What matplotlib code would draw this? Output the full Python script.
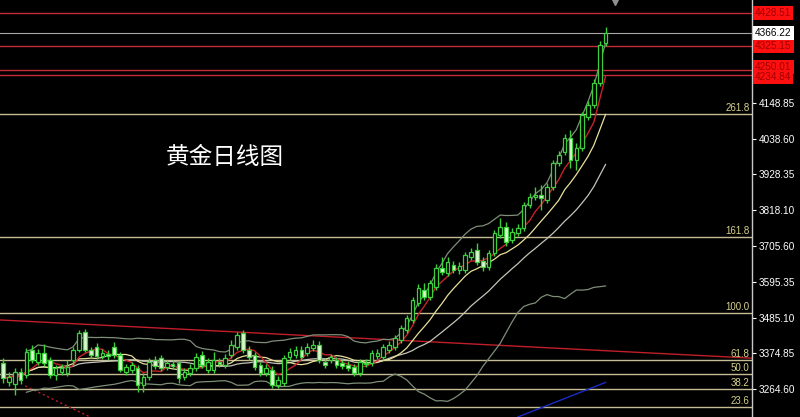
import matplotlib
matplotlib.use("Agg")
import matplotlib.pyplot as plt
import numpy as np
import pandas as pd

plt.rcParams["font.family"] = ["Liberation Sans", "DejaVu Sans"]

# daily gold candles
opens = [3345, 3286, 3280, 3317, 3308, 3385, 3348, 3376, 3354, 3308,
         3317, 3314, 3354, 3385, 3441, 3385, 3394, 3367, 3373, 3394,
         3370, 3317, 3323, 3330, 3277, 3302, 3354, 3360, 3333, 3342,
         3345, 3302, 3314, 3330, 3370, 3323, 3323, 3348, 3339, 3370,
         3394, 3438, 3385, 3370, 3339, 3314, 3323, 3277, 3283, 3364,
         3370, 3385, 3376, 3391, 3401, 3348, 3354, 3354, 3345, 3339,
         3333, 3314, 3342, 3345, 3367, 3364, 3385, 3394, 3416, 3447,
         3478, 3531, 3571, 3549, 3580, 3639, 3623, 3648, 3633, 3633,
         3673, 3694, 3660, 3642, 3685, 3741, 3766, 3725, 3747, 3762,
         3834, 3858, 3865, 3849, 3889, 3963, 3997, 4041, 3973, 4010,
         4106, 4143, 4211, 4334]
highs = [3360, 3317, 3330, 3330, 3391, 3401, 3388, 3404, 3364, 3339,
         3342, 3354, 3394, 3447, 3450, 3394, 3407, 3388, 3385, 3410,
         3379, 3342, 3348, 3339, 3314, 3360, 3367, 3370, 3354, 3354,
         3354, 3330, 3342, 3376, 3382, 3360, 3379, 3360, 3373, 3416,
         3441, 3447, 3398, 3379, 3348, 3342, 3336, 3305, 3370, 3391,
         3398, 3398, 3407, 3416, 3413, 3360, 3373, 3364, 3354, 3351,
         3342, 3357, 3357, 3385, 3388, 3404, 3413, 3432, 3462, 3493,
         3549, 3589, 3592, 3602, 3651, 3673, 3673, 3660, 3657, 3688,
         3701, 3716, 3673, 3694, 3756, 3793, 3781, 3762, 3775, 3843,
         3871, 3889, 3895, 3902, 3973, 4000, 4053, 4065, 4025, 4121,
         4155, 4223, 4341, 4384]
lows = [3283, 3274, 3246, 3280, 3299, 3345, 3339, 3336, 3299, 3292,
        3308, 3305, 3339, 3379, 3379, 3360, 3357, 3357, 3354, 3360,
        3317, 3308, 3314, 3255, 3255, 3292, 3326, 3320, 3323, 3326,
        3283, 3292, 3305, 3320, 3330, 3314, 3314, 3333, 3330, 3360,
        3385, 3376, 3354, 3323, 3305, 3305, 3268, 3268, 3274, 3354,
        3360, 3354, 3367, 3382, 3345, 3330, 3345, 3330, 3326, 3320,
        3305, 3305, 3333, 3336, 3357, 3354, 3376, 3385, 3407, 3438,
        3469, 3521, 3540, 3540, 3571, 3617, 3614, 3623, 3620, 3623,
        3664, 3648, 3629, 3633, 3676, 3731, 3707, 3716, 3738, 3753,
        3824, 3849, 3818, 3840, 3880, 3954, 3988, 3948, 3942, 4000,
        4096, 4133, 4201, 4325]
closes = [3299, 3302, 3317, 3292, 3379, 3354, 3376, 3345, 3308, 3330,
          3330, 3333, 3385, 3438, 3385, 3370, 3367, 3376, 3367, 3370,
          3323, 3333, 3339, 3277, 3302, 3348, 3336, 3330, 3345, 3336,
          3299, 3317, 3330, 3364, 3339, 3348, 3354, 3342, 3360, 3401,
          3432, 3385, 3364, 3333, 3314, 3330, 3277, 3292, 3360, 3379,
          3385, 3364, 3394, 3401, 3354, 3339, 3364, 3339, 3336, 3330,
          3314, 3348, 3345, 3376, 3376, 3394, 3401, 3422, 3453, 3484,
          3540, 3577, 3549, 3592, 3639, 3626, 3657, 3633, 3645, 3679,
          3688, 3657, 3642, 3685, 3747, 3766, 3719, 3750, 3762, 3834,
          3858, 3865, 3855, 3889, 3963, 3988, 4041, 3973, 4010, 4112,
          4143, 4211, 4328, 4366.22]

# horizontal levels
red_levels = [4428.51, 4325.15, 4250.01, 4234.84]
red_label_at = [4428.51, 4325.15, 4260.0, 4229.0]
last_price = 4366.22
fib_labels = ["261.8", "161.8", "100.0", "61.8", "50.0", "38.2", "23.6"]
fib_prices = [4115.0, 3735.0, 3500.0, 3355.0, 3310.0, 3265.0, 3209.7]
axis_ticks = [4148.85, 4038.60, 3928.35, 3818.10, 3705.60,
              3595.35, 3485.10, 3374.85, 3264.60]

# drawn lines (candle index, price)
trend_x = [-0.5, 128.0]
trend_y = [3478, 3360]
dotted_x = [3.8, 14.9]
dotted_y = [3274, 3178]
blue_x = [88.0, 103.0]
blue_y = [3178, 3285]

s = pd.Series(closes)
ma5 = s.rolling(5, min_periods=1).mean()
ma10 = s.rolling(10, min_periods=1).mean()
mid = s.rolling(20, min_periods=5).mean()
sd = s.rolling(20, min_periods=5).std(ddof=0)
upper = mid + 2 * sd
lower = mid - 2 * sd

fig = plt.figure(figsize=(8, 4.17), dpi=100, facecolor="black")
ax = fig.add_axes([0, 0, 0.94, 1])
ax.set_facecolor("black")
ax.set_xlim(-0.513, 128.03)
ax.set_ylim(3178, 4467.4)

# levels
for p in red_levels:
    ax.axhline(p, color="#c42c3c", lw=1, zorder=1)
ax.axhline(last_price, color="#a8a8a8", lw=0.8, zorder=1)
for lab, p in zip(fib_labels, fib_prices):
    ax.axhline(p, color="#c4bc94", lw=1, zorder=1)
    ax.text(0.997, p + 3, lab, transform=ax.get_yaxis_transform(),
            ha="right", va="bottom", color="#d8d08c", fontsize=7)

ax.plot(trend_x, trend_y, color="#c01e28", lw=1, zorder=2)
ax.plot(dotted_x, dotted_y, color="#c01e28", lw=1, ls=(0, (1.5, 2)), zorder=2)
ax.plot(blue_x, blue_y, color="#1a2cc8", lw=1, zorder=2)

x = np.arange(len(closes))
ax.plot(x, upper, color="#7e8e78", lw=0.9, zorder=2)
ax.plot(x, lower, color="#7e8e78", lw=0.9, zorder=2)
ax.plot(x, mid, color="#c4c4b8", lw=0.9, zorder=2)
ax.plot(x, ma10, color="#e8e09c", lw=0.9, zorder=2)
ax.plot(x, ma5, color="#c8202c", lw=1.0, zorder=2)

# candles
o = np.array(opens)
c = np.array(closes)
ax.vlines(x, lows, highs, color="#3cd03c", lw=1, zorder=3)
bull = c >= o
body_low = np.minimum(o, c)
body_h = np.maximum(np.abs(c - o), 2.0)
ax.bar(x, body_h, bottom=body_low, width=0.62,
       color=np.where(bull, "black", "#dcf8d0"),
       edgecolor="#3cd03c", linewidth=0.9, zorder=4)

# right price axis
for sp in ["top", "left", "bottom"]:
    ax.spines[sp].set_visible(False)
ax.spines["right"].set_color("#c8c8c8")
ax.spines["right"].set_linewidth(1)
ax.set_xticks([])
ax.yaxis.tick_right()
ax.set_yticks(axis_ticks)
ax.set_yticklabels([f"{v:.2f}" for v in axis_ticks])
ax.tick_params(axis="y", colors="white", labelsize=7.2, length=3, width=0.8, pad=2)

for p, py in zip(red_levels, red_label_at):
    ax.text(1.004, py, f"{p:.2f}", transform=ax.get_yaxis_transform(),
            ha="left", va="center", color="#a00000", fontsize=7.2,
            bbox=dict(boxstyle="square,pad=0.2", fc="#ff1010", ec="none"))
ax.text(1.004, last_price, f"{last_price:.2f}", transform=ax.get_yaxis_transform(),
        ha="left", va="center", color="black", fontsize=7.2,
        bbox=dict(boxstyle="square,pad=0.2", fc="white", ec="none"))

ax.plot([104.6], [4462], marker="v", color="#909090", ms=5, clip_on=False, zorder=5)

fig.text(225 / 800, 1 - 157 / 417, "黄金日线图", color="white", fontsize=17,
         ha="center", va="center", family=["Noto Sans CJK SC", "DejaVu Sans"])

fig.savefig("out.png", dpi=100, facecolor="black")
